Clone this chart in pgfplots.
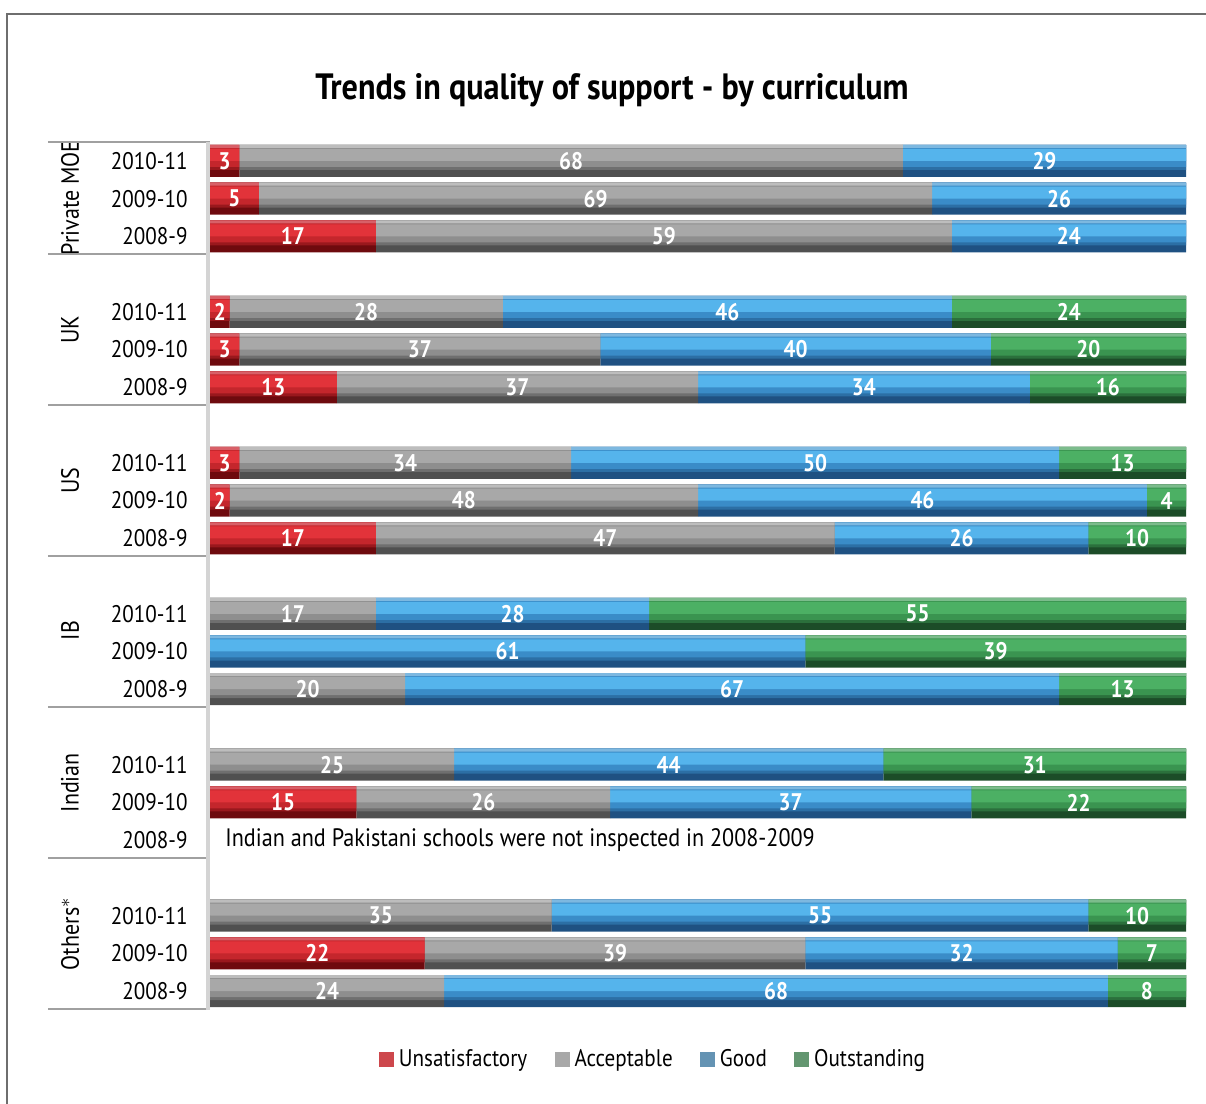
\documentclass[border=0pt]{standalone}
\usepackage{pgfplots}
\pgfplotsset{compat=1.18}
\usepackage{pgfplotstable}
\usepackage{fontspec}
\setmainfont{PT Sans}[FakeStretch=0.88]

% dark / mid / bright / edge tones of each series
\definecolor{rD}{HTML}{6E0A0E}\definecolor{rM}{HTML}{C4262C}\definecolor{rL}{HTML}{E2333A}\definecolor{rE}{HTML}{D86068}
\definecolor{aD}{HTML}{505050}\definecolor{aM}{HTML}{8E8E8E}\definecolor{aL}{HTML}{A8A8A8}\definecolor{aE}{HTML}{BDBDBD}
\definecolor{gD}{HTML}{1F5182}\definecolor{gM}{HTML}{3A8CC8}\definecolor{gL}{HTML}{55B4EC}\definecolor{gE}{HTML}{7DB8E0}
\definecolor{oD}{HTML}{1C4C28}\definecolor{oM}{HTML}{3A9450}\definecolor{oL}{HTML}{4CB064}\definecolor{oE}{HTML}{7CBC8C}
\definecolor{framec}{HTML}{6E6E6E}
\definecolor{sepc}{HTML}{A0A0A0}
\definecolor{stripc}{HTML}{D4D4D4}

\pgfplotstableread{
k  u  a  g  o
0  3  68 29 0
1  5  69 26 0
2  17 59 24 0
4  2  28 46 24
5  3  37 40 20
6  13 37 34 16
8  3  34 50 13
9  2  48 46 4
10 17 47 26 10
12 0  17 28 55
13 0  0  61 39
14 0  20 67 13
16 0  25 44 31
17 15 26 37 22
20 0  35 55 10
21 22 39 32 7
22 0  24 68 8
}\data

\pgfplotsset{myaxis/.style={scale only axis, width=488pt, height=434pt,
  at={(105pt,-505pt)}, anchor=south west,
  xmin=0, xmax=100, ymin=-0.5, ymax=22.5, y dir=reverse, clip=false}}

% one glossy layer of the stacked bars: width, shift, four colours
\newcommand{\barlayer}[6]{%
\begin{axis}[myaxis, hide axis, xbar stacked, bar width=#1, bar shift=#2]
\addplot[fill=#3, draw=none] table[x=u, y=k] {\data};
\addplot[fill=#4, draw=none] table[x=a, y=k] {\data};
\addplot[fill=#5, draw=none] table[x=g, y=k] {\data};
\addplot[fill=#6, draw=none] table[x=o, y=k] {\data};
\end{axis}}

\begin{document}
\begin{tikzpicture}
\path[use as bounding box] (0,0) rectangle (603pt,-552pt);
\draw[color=framec, line width=1pt] (3.5pt,-560pt) -- (3.5pt,-7pt) -- (610pt,-7pt);
\node[font=\bfseries\fontsize{18.3}{21}\selectfont] at (306pt,-45pt) {Trends in quality of support - by curriculum};

\begin{axis}[myaxis, xbar stacked, bar width=16pt,
  axis line style={draw=none}, xtick=\empty, major tick length=0pt,
  ytick={0,1,2,4,5,6,8,9,10,12,13,14,16,17,18,20,21,22},
  yticklabels={2010-11,2009-10,2008-9,2010-11,2009-10,2008-9,2010-11,2009-10,2008-9,2010-11,2009-10,2008-9,2010-11,2009-10,2008-9,2010-11,2009-10,2008-9},
  yticklabel shift=11pt,
  yticklabel style={font=\fontsize{12}{14}\selectfont, inner sep=0pt, anchor=east},
]
\fill[color=stripc] (axis cs:-0.36,-0.5) rectangle (axis cs:0,22.5);
\draw[color=sepc, line width=0.75pt] (axis cs:-16.6,-0.5) -- (axis cs:0,-0.5);
\draw[color=sepc, line width=0.75pt] (axis cs:-16.6,2.47) -- (axis cs:0,2.47);
\draw[color=sepc, line width=0.75pt] (axis cs:-16.6,6.47) -- (axis cs:0,6.47);
\draw[color=sepc, line width=0.75pt] (axis cs:-16.6,10.47) -- (axis cs:0,10.47);
\draw[color=sepc, line width=0.75pt] (axis cs:-16.6,14.47) -- (axis cs:0,14.47);
\draw[color=sepc, line width=0.75pt] (axis cs:-16.6,18.47) -- (axis cs:0,18.47);
\draw[color=sepc, line width=0.75pt] (axis cs:-16.6,22.47) -- (axis cs:0,22.47);
\addplot[fill=rD, draw=none] table[x=u, y=k] {\data};
\addplot[fill=aD, draw=none] table[x=a, y=k] {\data};
\addplot[fill=gD, draw=none] table[x=g, y=k] {\data};
\addplot[fill=oD, draw=none] table[x=o, y=k] {\data};
\node[rotate=90, font=\fontsize{12.5}{14}\selectfont] at (axis cs:-14.34,0.98) {Private MOE};
\node[rotate=90, font=\fontsize{12.5}{14}\selectfont] at (axis cs:-14.34,4.48) {UK};
\node[rotate=90, font=\fontsize{12.5}{14}\selectfont] at (axis cs:-14.34,8.48) {US};
\node[rotate=90, font=\fontsize{12.5}{14}\selectfont] at (axis cs:-14.34,12.45) {IB};
\node[rotate=90, font=\fontsize{12.5}{14}\selectfont] at (axis cs:-14.34,16.48) {Indian};
\node[rotate=90, font=\fontsize{12.5}{14}\selectfont] at (axis cs:-14.34,20.48) {Others$^{*}$};
\node[anchor=west, font=\fontsize{12.6}{14}\selectfont] at (axis cs:0.85,18) {Indian and Pakistani schools were not inspected in 2008-2009};
\end{axis}

\barlayer{12.5pt}{1.75pt}{rD!50!rM}{aD!50!aM}{gD!50!gM}{oD!50!oM}
\barlayer{11pt}{2.5pt}{rM}{aM}{gM}{oM}
\barlayer{6pt}{3pt}{rL}{aL}{gL}{oL}
\barlayer{1.5pt}{7.25pt}{rE}{aE}{gE}{oE}

\begin{axis}[myaxis, hide axis,
  point meta=explicit,
  /pgf/number format/assume math mode=true,
  nodes near coords={\pgfmathfloatifflags{\pgfplotspointmeta}{0}{}{\pgfmathprintnumber{\pgfplotspointmeta}}},
  every node near coord/.append style={anchor=center, text=white, inner sep=0pt,
     font=\bfseries\fontsize{12}{14}\selectfont},
  legend columns=4,
  legend style={at={(0.455,-0.057)}, anchor=center, draw=none, fill=none, inner sep=0pt,
    font=\fontsize{12}{14}\selectfont,
    /tikz/every even column/.append style={column sep=11.7pt},
    /tikz/every odd column/.append style={column sep=0.5pt}},
]
\addlegendimage{legend image code/.code={\fill[color=rM!85!white] (0pt,-3.5pt) rectangle (7pt,3.5pt);}}
\addlegendimage{legend image code/.code={\fill[color=aL] (0pt,-3.5pt) rectangle (7pt,3.5pt);}}
\addlegendimage{legend image code/.code={\fill[color=gE!80!black] (0pt,-3.5pt) rectangle (7pt,3.5pt);}}
\addlegendimage{legend image code/.code={\fill[color=oE!80!black] (0pt,-3.5pt) rectangle (7pt,3.5pt);}}
\legend{Unsatisfactory,Acceptable,Good,Outstanding}
\addplot[forget plot, only marks, mark=*, mark size=0pt, mark options={draw=none, fill=none}] table[x expr=\thisrow{u}/2, y=k, meta=u] {\data};
\addplot[forget plot, only marks, mark=*, mark size=0pt, mark options={draw=none, fill=none}] table[x expr=\thisrow{u}+\thisrow{a}/2, y=k, meta=a] {\data};
\addplot[forget plot, only marks, mark=*, mark size=0pt, mark options={draw=none, fill=none}] table[x expr=\thisrow{u}+\thisrow{a}+\thisrow{g}/2, y=k, meta=g] {\data};
\addplot[forget plot, only marks, mark=*, mark size=0pt, mark options={draw=none, fill=none}] table[x expr=\thisrow{u}+\thisrow{a}+\thisrow{g}+\thisrow{o}/2, y=k, meta=o] {\data};
\end{axis}
\end{tikzpicture}
\end{document}
